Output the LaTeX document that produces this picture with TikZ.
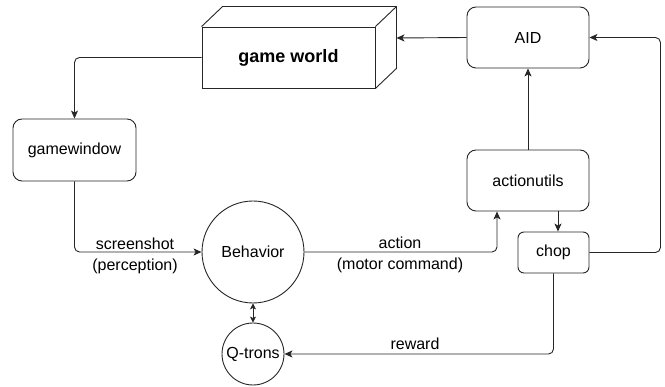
\documentclass[tikz,border=0pt]{standalone}
\usepackage{fontspec}
\setmainfont{Liberation Sans}
\usetikzlibrary{arrows.meta,calc}
\begin{document}
\begin{tikzpicture}[x=1pt,y=-1pt,
  line width=0.9pt, draw=black!85,
  every node/.style={font=\fontsize{16}{21}\selectfont, align=center, inner sep=0pt},
  box/.style={draw, rounded corners=9pt},
  ring/.style={draw, circle},
  flow/.style={rounded corners=5pt, -{Stealth[length=8pt,width=7pt,inset=2pt]}},
  both/.style={{Stealth[length=6pt,width=6pt,inset=1.5pt]}-{Stealth[length=6pt,width=6pt,inset=1.5pt]}},
  lbl/.style={fill=none}]
\useasboundingbox (0,0) rectangle (665,387);

% 3-D block for the game world
\node[draw, minimum width=173pt, minimum height=61pt, font=\fontsize{18}{22}\selectfont\bfseries] (gw) at (288.5,57.5) {game world};
\draw (gw.north west) -- ++(21,-20) -- ($(gw.north east)+(21,-20)$) -- ($(gw.south east)+(21,-20)$) -- (gw.south east);
\draw (gw.north east) -- ++(21,-20);
\coordinate (gwr) at ($(gw.east)+(21,-19.5)$);

% process boxes
\node[box, minimum width=123pt, minimum height=62pt] (gwin) at (74.5,150) {gamewindow};
\node[box, minimum width=122pt, minimum height=61pt] (aid) at (528,37.5) {AID};
\node[box, minimum width=122pt, minimum height=61pt] (au) at (528,180.5) {actionutils};
\node[box, minimum width=71pt, minimum height=41pt, rounded corners=6pt] (chop) at (553.5,252.5) {chop};

% agents
\node[ring, minimum size=102pt] (beh) at (253,252) {Behavior};
\node[ring, minimum size=62pt] (qt) at (253,354) {Q-trons};

% connectors
\draw[flow] (aid.west) -- (gwr);
\draw[flow] (gw.west) -| (gwin.north);
\draw[flow] (gwin.south) |- (beh.west);
\draw[flow] (beh.east) -| ([xshift=-31pt]au.south);
\draw[flow] (au.north) -- (aid.south);
\draw[flow] ([xshift=30pt]au.south) -- ([xshift=30pt]au.south |- chop.north);
\draw[flow] (chop.east) -- ++(71,0) |- (aid.east);
\draw[flow] (chop.south) |- (qt.east);
\draw[both] (beh.south) -- (qt.north);

% edge labels
\node[lbl] (l1) at (135,256) {screenshot\\(perception)};
\node[lbl] (l2) at (400,255) {action\\(motor command)};
\node[lbl] (l3) at (415,344) {reward};
\end{tikzpicture}
\end{document}
